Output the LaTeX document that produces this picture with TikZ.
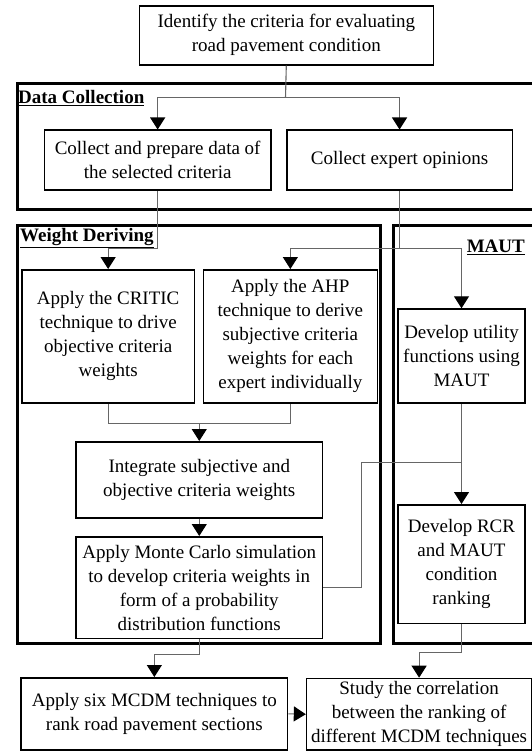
\documentclass[tikz,border=0pt]{standalone}
\usepackage{fontspec}
\setmainfont{Liberation Serif}
\usetikzlibrary{arrows.meta}
\begin{document}
\begin{tikzpicture}[x=1pt,y=-1pt,
  box/.style={draw=black, line width=1.6pt, align=center, inner sep=0pt, anchor=north west,
    font=\fontsize{19}{24}\selectfont},
  frame/.style={draw=black, line width=3pt},
  lbl/.style={font=\fontsize{19}{22}\selectfont\bfseries, inner sep=0pt},
  conn/.style={draw=black!60, line width=1.1pt},
  arr/.style={conn, -{Triangle[width=15pt,length=12pt,color=black]}},
]
\useasboundingbox (0,0) rectangle (531,751);
\fill[white] (0,0) rectangle (531,751);

% frames
\draw[frame] (17.5,83.5) rectangle (533,210);
\draw[frame] (17.5,225.5) rectangle (380.2,643.5);
\draw[frame] (393.2,225.5) rectangle (533,643.5);
\node[lbl, anchor=west] (dclab) at (18,98.3) {\underline{Data Collection}};
\node[lbl, anchor=west] (wdlab) at (20,238) {\underline{Weight Deriving}};
\node[lbl, anchor=east] (mlab) at (525,247) {\underline{MAUT}};

% boxes
\node[box, minimum width=294pt, minimum height=59pt] (top) at (138.5,5)
  {Identify the criteria for evaluating\\road pavement condition};
\node[box, minimum width=226.3pt, minimum height=60pt] (data) at (43.7,129.5)
  {Collect and prepare data of\\the selected criteria};
\node[box, minimum width=225.5pt, minimum height=60pt] (expert) at (286,129.5)
  {Collect expert opinions};
\node[box, minimum width=172.7pt, minimum height=133.3pt] (critic) at (21,269)
  {Apply the CRITIC\\technique to drive\\objective criteria\\weights};
\node[box, minimum width=174.1pt, minimum height=133.3pt] (ahp) at (202.5,269)
  {Apply the AHP\\technique to derive\\subjective criteria\\weights for each\\expert individually};
\node[box, minimum width=127pt, minimum height=94pt] (util) at (397.2,308.3)
  {Develop utility\\functions using\\MAUT};
\node[box, minimum width=246.5pt, minimum height=76pt] (integ) at (75.2,441)
  {Integrate subjective and\\objective criteria weights};
\node[box, minimum width=246.5pt, minimum height=101.5pt] (mc) at (75.2,536)
  {Apply Monte Carlo simulation\\to develop criteria weights in\\form of a probability\\distribution functions};
\node[box, minimum width=127pt, minimum height=118.5pt] (rcr) at (397.2,504)
  {Develop RCR\\and MAUT\\condition\\ranking};
\node[box, minimum width=266.5pt, minimum height=72pt] (apply) at (20.3,677)
  {Apply six MCDM techniques to\\rank road pavement sections};
\node[box, minimum width=225pt, minimum height=71.5pt] (study) at (305.8,677.7)
  {Study the correlation\\between the ranking of\\different MCDM techniques};

% connectors
\coordinate (j1) at (285.5,97.7);
\draw[conn] (top.south) -- (j1);
\draw[arr] (j1) -| (data.north);
\draw[arr] (j1) -| (expert.north);
\draw[arr] (data.south) -- ++(0,57.8) -| (critic.north);
\draw[conn] (expert.south) -- ++(0,57.8) coordinate (j2);
\draw[arr] (j2) -| (ahp.north);
\draw[arr] (j2) -| (util.north);
\draw[conn] (critic.south) -- ++(0,20) coordinate (c1) -| (ahp.south);
\coordinate (j3) at (integ.north |- c1);
\draw[arr] (j3) -- (integ.north);
\draw[arr] (integ.south) -- (mc.north);
\draw[arr] (util.south) -- (rcr.north);
\coordinate (k) at (0,462.3);
\draw[conn] (mc.east) -- ++(38,0) |- (util.south |- k);
\draw[arr] (mc.south) -- ++(0,15) -| (apply.north);
\draw[arr] (rcr.south) -- ++(0,28.5) -| (study.north);
\draw[arr] (apply.east) -- (study.west);
\end{tikzpicture}
\end{document}
